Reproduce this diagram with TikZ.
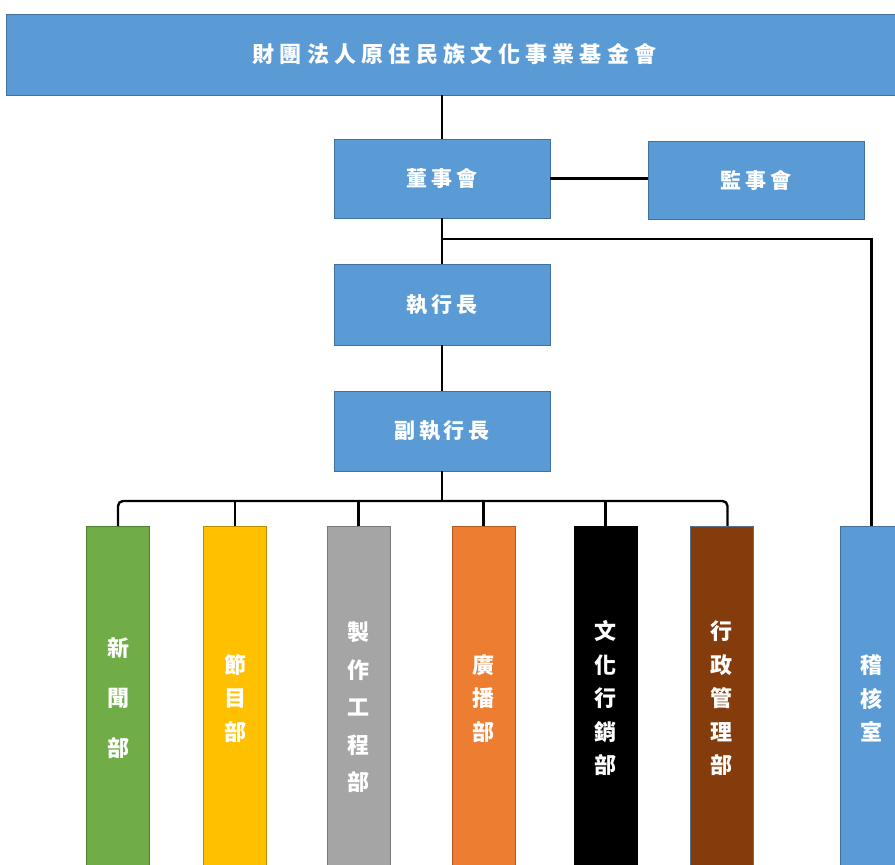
\documentclass[tikz,border=0pt]{standalone}
\usepackage{fontspec}
\newfontfamily\cjk[LetterSpace=18]{Noto Sans CJK TC}
\newfontfamily\cjktitle[LetterSpace=24]{Noto Sans CJK TC}
\newfontfamily\cjkv{Noto Sans CJK TC}
\definecolor{oblue}{HTML}{5B9BD5}
\definecolor{obluedark}{HTML}{41719C}
\definecolor{ogreen}{HTML}{70AD47}
\definecolor{ogreendark}{HTML}{507E32}
\definecolor{ogold}{HTML}{FFC000}
\definecolor{ogolddark}{HTML}{BC8C00}
\definecolor{ogray}{HTML}{A5A5A5}
\definecolor{ograydark}{HTML}{787878}
\definecolor{oorange}{HTML}{ED7D31}
\definecolor{oorangedark}{HTML}{AE5A21}
\definecolor{obrown}{HTML}{843C0C}
\definecolor{obrowndark}{HTML}{5A6E8C}
\begin{document}
\begin{tikzpicture}[x=1pt,y=-1pt,
  box/.style={draw=obluedark,fill=oblue,line width=0.8pt,minimum width=216pt,minimum height=80pt,inner sep=0pt,text=white,font=\cjk\fontsize{21}{24}\selectfont\bfseries},
  col/.style={line width=0.8pt,minimum width=63pt,minimum height=344pt,inner sep=0pt,text=white,align=center,anchor=north},
  link/.style={line width=2.4pt,black}]
\useasboundingbox (0,0) rectangle (895,865);
% top bar
\node[box,minimum width=897pt,minimum height=81pt,font=\cjktitle\fontsize{22}{24}\selectfont\bfseries] (top) at (454.5,54.5) {財團法人原住民族文化事業基金會};
\node[box,minimum height=79pt] (board) at (442,178.5) {董事會};
\node[box,minimum height=78pt] (sup) at (756,180) {監事會};
\node[box,minimum height=81pt] (ceo) at (442,304.5) {執行長};
\node[box] (vceo) at (442,431) {副執行長};
% columns
\node[col,draw=ogreendark,fill=ogreen,font=\cjkv\fontsize{22}{50}\selectfont\bfseries] (news) at (118,526) {新\\聞\\部};
\node[col,draw=ogolddark,fill=ogold,font=\cjkv\fontsize{22}{33.5}\selectfont\bfseries] (prog) at (235,526) {節\\目\\部};
\node[col,draw=ograydark,fill=ogray,minimum height=362pt,font=\cjkv\fontsize{22}{37.5}\selectfont\bfseries] (eng) at (358.5,526) {製\\作\\工\\程\\部};
\node[col,draw=oorangedark,fill=oorange,font=\cjkv\fontsize{22}{33.5}\selectfont\bfseries] (broad) at (483.5,526) {廣\\播\\部};
\node[col,draw=black,fill=black,font=\cjkv\fontsize{22}{33.5}\selectfont\bfseries] (culture) at (605.5,526) {文\\化\\行\\銷\\部};
\node[col,draw=obrowndark,fill=obrown,font=\cjkv\fontsize{22}{33.5}\selectfont\bfseries] (admin) at (721.5,526) {行\\政\\管\\理\\部};
\node[col,draw=obluedark,fill=oblue,font=\cjkv\fontsize{22}{33.5}\selectfont\bfseries] (audit) at (871.5,526) {稽\\核\\室};
% connectors
\coordinate (bus) at (442,501);
\coordinate (auditbranch) at (442,239);
\draw[link] (board.north) -- (board.north |- top.south);
\draw[link] (board.east) -- (sup.west |- board.east);
\draw[link] (board.south) -- (ceo.north);
\draw[link] (ceo.south) -- (vceo.north);
\draw[link] (auditbranch) -| (audit.north);
\draw[link] (vceo.south) -- (bus);
\draw[link,rounded corners=5pt] (news.north) -- (news.north |- bus) -- ([xshift=6pt]admin.north |- bus) -- ([xshift=6pt]admin.north);
\draw[link] (prog.north) -- (prog.north |- bus);
\draw[link] (eng.north) -- (eng.north |- bus);
\draw[link] (broad.north) -- (broad.north |- bus);
\draw[link] (culture.north) -- (culture.north |- bus);
\end{tikzpicture}
\end{document}
